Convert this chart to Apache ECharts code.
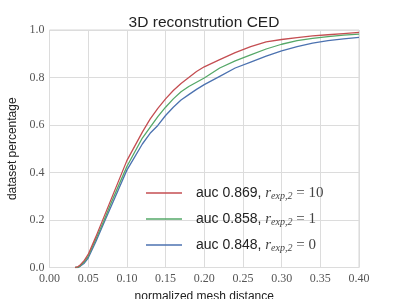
<!DOCTYPE html>
<html><head><meta charset="utf-8">
<script src="https://cdn.jsdelivr.net/npm/echarts@6/dist/echarts.min.js"></script>
<style>html,body{margin:0;padding:0;background:#fff}#c{width:399px;height:299px}</style>
</head><body><div id="c"></div>
<script>
const xs = [0.033,0.037,0.04,0.045,0.05,0.06,0.07,0.08,0.09,0.10,0.11,0.12,0.13,0.14,0.15,0.16,0.17,0.18,0.19,0.20,0.22,0.24,0.26,0.28,0.30,0.32,0.34,0.36,0.38,0.40];
const redVals   = [0,0.004,0.012,0.03,0.055,0.13,0.21,0.29,0.37,0.45,0.51,0.57,0.625,0.67,0.71,0.745,0.775,0.80,0.825,0.845,0.875,0.905,0.93,0.95,0.96,0.968,0.975,0.98,0.985,0.99];
const greenVals = [0,0.001,0.008,0.024,0.047,0.12,0.195,0.275,0.35,0.425,0.485,0.545,0.59,0.635,0.675,0.71,0.74,0.762,0.78,0.798,0.84,0.87,0.895,0.92,0.94,0.955,0.965,0.972,0.978,0.983];
const blueVals  = [0,0,0.006,0.018,0.04,0.11,0.185,0.26,0.335,0.41,0.465,0.52,0.565,0.598,0.64,0.675,0.705,0.728,0.75,0.77,0.805,0.84,0.865,0.89,0.912,0.93,0.945,0.955,0.963,0.969];
const aucs = ['0.869','0.858','0.848'];
const rvals = ['10','1','0'];
const names = ['red','green','blue'];
const colors = ['#c44e52','#55a868','#4c72b0'];

const all = [redVals, greenVals, blueVals];
const chart = echarts.init(document.getElementById('c'));
const series = all.map((vals,i)=>({
  name: names[i], type:'line', symbol:'none', showSymbol:false,
  data: xs.map((x,j)=>[x, vals[j]]),
  lineStyle:{color:colors[i], width:1.3}, itemStyle:{color:colors[i]},
  z: 10-i
}));
const serif = "'Liberation Serif', 'DejaVu Serif', serif";
const sans = "'Liberation Sans', Arial, sans-serif";
chart.setOption({
  animation:false,
  backgroundColor:'#fff',
  title:{text:'3D reconstrution CED', left:199, top:10, textAlign:'center',
    textStyle:{fontFamily:sans, fontSize:15.5, fontWeight:'normal', color:'#222'}},
  grid:{left:49.5, right:40, top:30, bottom:31.5, containLabel:false, outerBoundsMode:'none',
    show:true, borderColor:'#d6d6d6', borderWidth:1, backgroundColor:'#fff'},
  xAxis:{type:'value', min:0, max:0.4, interval:0.05,
    name:'normalized mesh distance', nameLocation:'middle', nameGap:23,
    nameTextStyle:{fontFamily:sans, fontSize:12, color:'#222'},
    axisLine:{show:false}, axisTick:{show:false},
    axisLabel:{margin:5, fontFamily:serif, fontSize:12, color:'#555', formatter:v=>v.toFixed(2)},
    splitLine:{show:true, lineStyle:{color:'#dcdcdc', width:1}}},
  yAxis:{type:'value', min:0, max:1, interval:0.2,
    name:'dataset percentage', nameLocation:'middle', nameGap:22,
    nameTextStyle:{fontFamily:sans, fontSize:12, color:'#222'},
    axisLine:{show:false}, axisTick:{show:false},
    axisLabel:{margin:5, fontFamily:serif, fontSize:12, color:'#555', formatter:v=>v.toFixed(1)},
    splitLine:{show:true, lineStyle:{color:'#dcdcdc', width:1}}},
  legend:{orient:'vertical', left:141, top:180, itemWidth:36, itemHeight:14, itemGap:10,
    icon:'path://M0,6.3H36V7.7H0Z', itemStyle:{borderWidth:0},
    data:names,
    formatter: function(n){ const i = names.indexOf(n);
      return '{sp|}{a|auc '+aucs[i]+', }{r|r}{s|exp,2}{e| = '+rvals[i]+'}'; },
    textStyle:{rich:{
      sp:{width:9, lineHeight:14},
      a:{fontFamily:sans, fontSize:14, color:'#222', lineHeight:14},
      r:{fontFamily:serif, fontStyle:'italic', fontSize:15, color:'#444', lineHeight:14},
      s:{fontFamily:serif, fontStyle:'italic', fontSize:10, color:'#444', lineHeight:8, padding:[6,0,0,0]},
      e:{fontFamily:serif, fontSize:15, color:'#444', lineHeight:14}
    }}},
  series: series
});
</script></body></html>
